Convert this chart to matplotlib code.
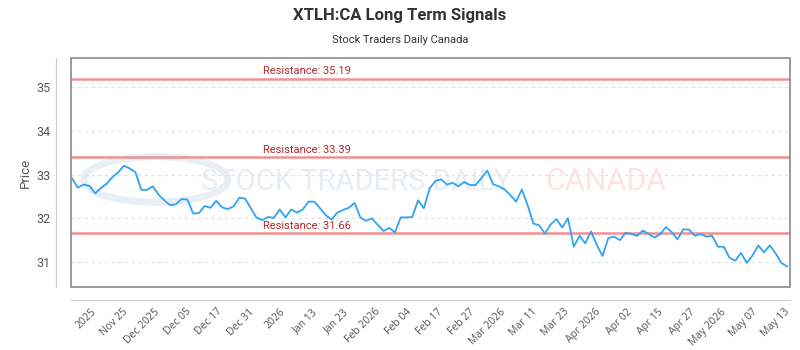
import matplotlib
matplotlib.use("Agg")
import matplotlib.pyplot as plt
import matplotlib.transforms as mtransforms
from matplotlib.patches import Rectangle, Circle
import numpy as np

# closing prices, one per session
prices = [
    32.91, 32.70, 32.77, 32.74, 32.57, 32.69, 32.79, 32.94, 33.05, 33.20,
    33.14, 33.05, 32.65, 32.65, 32.73, 32.54, 32.41, 32.30, 32.32, 32.44,
    32.43,
    32.11, 32.12, 32.28, 32.24, 32.40, 32.25, 32.21, 32.27, 32.47, 32.45,
    32.23, 32.01, 31.96, 32.03, 32.01, 32.20, 32.02, 32.20, 32.13, 32.20,
    32.38, 32.38, 32.23, 32.07, 31.97, 32.13, 32.19, 32.24, 32.35, 32.02,
    31.94, 32.00, 31.85, 31.71, 31.78, 31.68, 32.02, 32.02, 32.03, 32.41,
    32.23,
    32.68, 32.85, 32.89, 32.77, 32.81, 32.73, 32.83, 32.76, 32.76, 32.92,
    33.09, 32.78, 32.73, 32.66, 32.53, 32.38, 32.66, 32.30, 31.88, 31.84,
    31.65,
    31.86, 31.98, 31.79, 32.00, 31.35, 31.60, 31.43, 31.70, 31.39, 31.14,
    31.55, 31.58, 31.50, 31.67, 31.64, 31.60, 31.72, 31.64, 31.56, 31.64,
    31.80, 31.68, 31.52, 31.75, 31.74, 31.60, 31.64, 31.58, 31.60, 31.35,
    31.35, 31.10, 31.03, 31.21, 30.98, 31.15, 31.38, 31.22, 31.38, 31.20,
    30.98, 30.90,
]

resistance = [35.19, 33.39, 31.66]

tick_labels = ["2025", "Nov 25", "Dec 2025", "Dec 05", "Dec 17", "Dec 31",
               "2026", "Jan 13", "Jan 23", "Feb 2026", "Feb 04", "Feb 17",
               "Feb 27", "Mar 2026", "Mar 11", "Mar 23", "Apr 2026", "Apr 02",
               "Apr 15", "Apr 27", "May 2026", "May 07", "May 13"]

x = np.arange(len(prices))

fig = plt.figure(figsize=(8, 3.5), dpi=100)
ax = fig.add_axes([0.089, 0.18, 0.8985, 0.654])

ax.set_xlim(-0.15, len(prices) - 0.5)
ax.set_ylim(30.43, 35.66)

# watermark
ax.add_patch(Circle((0.118, 0.47), 0.1, transform=ax.transAxes,
                    facecolor="none", edgecolor="#eaeef5", lw=5, zorder=0))
ax.text(0.18, 0.46, "STOCK TRADERS DAILY", transform=ax.transAxes,
        fontsize=21, color="#e8ecf4", family="Roboto",
        va="center", ha="left", zorder=0)
ax.text(0.66, 0.46, "CANADA", transform=ax.transAxes,
        fontsize=22, color="#fde3e3", family="Roboto",
        va="center", ha="left", zorder=0)

for y in [31, 32, 33, 34, 35]:
    ax.axhline(y, color="#e2e2e2", lw=0.8, ls=(0, (3, 3)), zorder=1)

trans = mtransforms.blended_transform_factory(ax.transAxes, ax.transData)
for r in resistance:
    ax.axhline(r, color="#f09090", lw=1.8, zorder=2)
    ax.text(0.267, r + 0.06, "Resistance: %.2f" % r, transform=trans,
            color="#b22a2a", fontsize=8, family="Roboto", va="bottom",
            ha="left", zorder=3)

ax.plot(x, prices, color="#2fa4f2", lw=1.3, zorder=4)

# frame round the plot area
ax.add_patch(Rectangle((0, 0), 1, 1, transform=ax.transAxes, fill=False,
                       edgecolor="#8a8a8a", lw=1.2, clip_on=False, zorder=5))

for s in ["top", "right"]:
    ax.spines[s].set_visible(False)
ax.spines["left"].set_position(("outward", 11))
ax.spines["bottom"].set_position(("outward", 9))
ax.spines["left"].set_color("#cccccc")
ax.spines["bottom"].set_color("#cccccc")

ax.set_yticks([31, 32, 33, 34, 35])
ax.tick_params(axis="y", length=0, pad=4, labelsize=9, labelcolor="#555555")
ax.set_xticks(np.linspace(3.3, 123.4, len(tick_labels)))
ax.set_xticklabels(tick_labels, rotation=45, ha="right",
                   rotation_mode="anchor", fontsize=7.5, color="#555555",
                   family="Open Sans")
ax.tick_params(axis="x", length=0, pad=5)
for lab in ax.get_yticklabels():
    lab.set_family("Roboto")

ax.set_ylabel("Price", fontsize=9.5, color="#555555", family="Roboto")
ax.yaxis.set_label_coords(-0.055, 0.5)

fig.text(0.5, 0.955, "XTLH:CA Long Term Signals", ha="center", va="center",
         fontsize=12, fontweight="bold", color="#333333", family="Roboto")
fig.text(0.5, 0.887, "Stock Traders Daily Canada", ha="center", va="center",
         fontsize=8, color="#333333", family="Roboto")

fig.savefig("out.png", dpi=100)
